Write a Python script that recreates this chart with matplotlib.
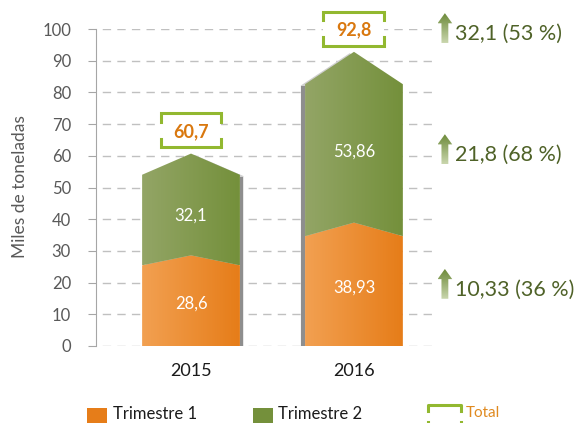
import matplotlib
matplotlib.use('Agg')
import matplotlib.pyplot as plt
import numpy as np
from matplotlib.colors import to_rgb
from matplotlib.patches import Polygon, Rectangle
from matplotlib.lines import Line2D

years = ['2015', '2016']
trim1 = [28.6, 38.93]
trim2 = [32.1, 53.86]
totals = [60.7, 92.8]
change_labels = ['10,33 (36 %)', '21,8 (68 %)', '32,1 (53 %)']
change_y = [17.7, 60.2, 98.4]

plt.rcParams['font.family'] = ['Lato', 'DejaVu Sans']

W, H = 581, 423
fig = plt.figure(figsize=(W / 100, H / 100), dpi=100)
ax = fig.add_axes([96 / W, 1 - 346 / H, (433 - 96) / W, (346 - 29) / H])

ORANGE = ('#f2a051', '#e67d19')
GREEN = ('#93a566', '#74903b')
BOX = '#92b830'
TXT_GREEN = '#4f6228'
GRAY = '#595959'


def fmt(v):
    return f'{v:g}'.replace('.', ',')


def grad_fill(verts, c0, c1, vertical=False, z=3):
    # gradient image clipped to a polygon
    poly = Polygon(verts, closed=True, facecolor='none', edgecolor='none', clip_on=False)
    ax.add_patch(poly)
    t = np.linspace(0, 1, 64)
    a, b = np.array(to_rgb(c0)), np.array(to_rgb(c1))
    cols = a[None, :] * (1 - t[:, None]) + b[None, :] * t[:, None]
    img = cols[:, None, :] if vertical else cols[None, :, :]
    vs = np.array(verts)
    im = ax.imshow(img, extent=[vs[:, 0].min(), vs[:, 0].max(), vs[:, 1].min(), vs[:, 1].max()],
                   aspect='auto', zorder=z, interpolation='bilinear', origin='upper')
    im.set_clip_box(fig.bbox)
    im.set_clip_path(poly)
    return im


x = np.arange(len(years))
bw = 0.6
roof = 0.89   # side height relative to the peak
shift = [0.022, -0.026]

for i in range(len(years)):
    x0, x1, xc = x[i] - bw / 2, x[i] + bw / 2, x[i]
    v1 = trim1[i]
    tot = totals[i]
    # shadow
    dx = shift[i]
    outline = [(x0, 0), (x1, 0), (x1, roof * tot), (xc, tot), (x0, roof * tot)]
    ax.add_patch(Polygon([(px + dx, py - 0.4) for px, py in outline], closed=True,
                         facecolor='#cfcfcf', edgecolor='none', zorder=2))
    sx = x1 if dx > 0 else x0 + dx
    ax.add_patch(Rectangle((sx, 0), abs(dx), roof * tot - 0.6, facecolor='#8e8e8e',
                           edgecolor='none', zorder=2))
    # segments
    grad_fill([(x0, 0), (x1, 0), (x1, roof * v1), (xc, v1), (x0, roof * v1)], *ORANGE)
    grad_fill([(x0, roof * v1), (xc, v1), (x1, roof * v1), (x1, roof * tot), (xc, tot),
               (x0, roof * tot)], *GREEN)
    ax.text(xc, (roof * v1 + v1) / 4, fmt(v1), ha='center', va='center', color='white',
            fontsize=12, zorder=5)
    y_lo = (roof * v1 + v1) / 2
    y_hi = (roof * tot + tot) / 2
    ax.text(xc, (y_lo + y_hi) / 2 - 1, fmt(trim2[i]), ha='center', va='center', color='white',
            fontsize=12, zorder=5)
    # total box
    bc = tot + 7.3
    hw, hh, arm = 0.187, 5.35, 2.6
    ax.add_patch(Rectangle((xc - hw, bc - hh), 2 * hw, 2 * hh, facecolor='white',
                           edgecolor='none', zorder=4, clip_on=False))
    for sgn in (1, -1):
        yy = bc + sgn * hh
        ax.add_line(Line2D([xc - hw, xc - hw, xc + hw, xc + hw],
                           [yy - sgn * arm, yy, yy, yy - sgn * arm], color=BOX, lw=2.2,
                           zorder=5, clip_on=False, solid_joinstyle='miter'))
    ax.text(xc, tot + 7, fmt(tot), ha='center', va='center', color='#d9780f',
            fontsize=13, fontweight='bold', zorder=6, clip_on=False)

# change annotations on the right
ax_x = 1.558
for lab, yv in zip(change_labels, change_y):
    top, hb, bot = yv + 6.6, yv + 3.4, yv - 2.8
    sw, hwid = 0.021, 0.045
    verts = [(ax_x - sw, bot), (ax_x + sw, bot), (ax_x + sw, hb), (ax_x + hwid, hb),
             (ax_x, top), (ax_x - hwid, hb), (ax_x - sw, hb)]
    grad_fill(verts, '#6d8a3a', '#c9d6ad', vertical=True, z=5)
    ax.text(1.618, yv, lab, ha='left', va='center', color=TXT_GREEN, fontsize=15.5,
            clip_on=False)

ax.set_xlim(-0.583, 1.485)
ax.set_ylim(0, 100)
ax.set_yticks(np.arange(0, 101, 10))
ax.set_xticks(x, years)
ax.yaxis.grid(True, color='#c0c0c0', linestyle=(6, (6, 4.5)), linewidth=1)
ax.set_axisbelow(True)
for s in ('top', 'right', 'bottom'):
    ax.spines[s].set_visible(False)
ax.spines['left'].set_color('#a6a6a6')
ax.tick_params(axis='y', colors='#a6a6a6', labelcolor=GRAY, labelsize=12, length=6, pad=12)
ax.tick_params(axis='x', length=0, labelsize=13, labelcolor='#1a1a1a', pad=12)

fig.text(20 / W, 1 - 187 / H, 'Miles de toneladas', rotation=90, ha='center', va='center',
         color=GRAY, fontsize=12.5)


# legend along the bottom
def fpx(px, py):
    return px / W, 1 - py / H


fig.add_artist(Rectangle(fpx(87, 428), 20 / W, 20 / H, transform=fig.transFigure,
                         facecolor='#e67d19', edgecolor='none'))
fig.text(*fpx(113, 414), 'Trimestre 1', ha='left', va='center', fontsize=12, color='#1a1a1a')
fig.add_artist(Rectangle(fpx(253, 428), 20 / W, 20 / H, transform=fig.transFigure,
                         facecolor='#74903b', edgecolor='none'))
fig.text(*fpx(278, 414), 'Trimestre 2', ha='left', va='center', fontsize=12, color='#1a1a1a')
for ty, arm in ((405, 6), (428, -6)):
    xs, ys = zip(*[fpx(428, ty + arm), fpx(428, ty), fpx(461, ty), fpx(461, ty + arm)])
    fig.add_artist(Line2D(xs, ys, transform=fig.transFigure, color=BOX, lw=2.2))
fig.text(*fpx(466, 413), 'Total', ha='left', va='center', fontsize=11, color='#e08a20')

fig.savefig('out.png', dpi=100)
